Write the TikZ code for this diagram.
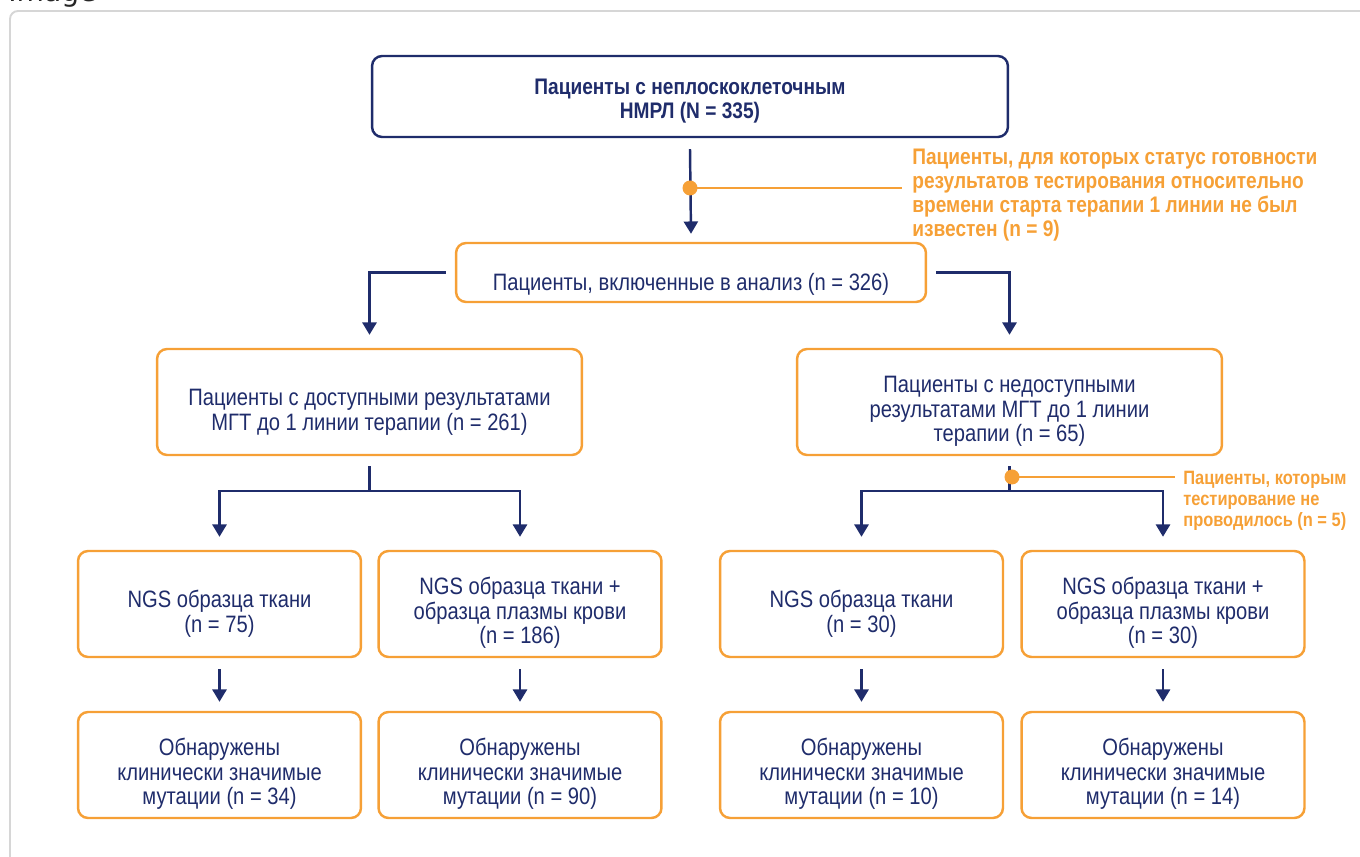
\documentclass[tikz,border=0pt]{standalone}
\usepackage{fontspec}
\setmainfont{Liberation Sans}[FakeStretch=0.85]
\newfontfamily\imagefont{DejaVu Sans}
\usetikzlibrary{positioning, calc, arrows.meta}

\definecolor{navyline}{RGB}{31,44,107}
\definecolor{orangeline}{RGB}{246,160,54}
\definecolor{framegray}{RGB}{214,214,214}

\tikzset{
    flowbox/.style={draw=orangeline, line width=1.4pt, rounded corners=0.2cm,
        align=center, text=navyline, inner sep=0pt, text depth=0pt,
        font=\fontsize{13.5}{14.1}\selectfont},
    oneline/.style={text height=20.5pt},
    twolines/.style={text height=32.4pt},
    threelines/.style={text height=45.5pt},
    rowbox/.style={flowbox, minimum width=5.66cm, minimum height=2.12cm},
    flowline/.style={draw=navyline, line width=1.4pt},
    flowarrow/.style={flowline, -{Triangle[width=8pt, length=7pt]}},
    noteline/.style={draw=orangeline, line width=1.4pt},
    notedot/.style={circle, fill=orangeline, inner sep=0pt, minimum size=0.3cm},
    notetext/.style={text=orangeline, align=left, inner sep=0pt,
        font=\bfseries\fontsize{12.8}{13.6}\selectfont},
}

\begin{document}
\begin{tikzpicture}[x=0.02cm, y=-0.02cm]

    \useasboundingbox (0,0) rectangle (1360,857);
    \clip (0,0) rectangle (1360,857);

    % Frame round the picture
    \draw[framegray, line width=1.1pt, rounded corners=0.16cm] (10,11) rectangle (1380,880);
    \node[anchor=base west, inner sep=0pt, text=black!85,
        font=\imagefont\fontsize{16}{16}\selectfont] (imagelabel) at (8,2) {Image};

    % Top box
    \node[flowbox, draw=navyline, minimum width=12.72cm, minimum height=1.62cm,
        text height=24.8pt, font=\bfseries\fontsize{12.8}{13.6}\selectfont] (cohort) at (690,96.5)
        {Пациенты с неплоскоклеточным\\НМРЛ (N = 335)};

    % Included patients
    \node[flowbox, oneline, minimum width=9.4cm, minimum height=1.18cm] (included) at (691,272.5)
        {Пациенты, включенные в анализ (n = 326)};

    \draw[flowarrow] ($(cohort.south)+(0,11)$) -- ($(included.north)+(0,-8)$);

    % Excluded: status unknown
    \node[notetext, anchor=north west] (unknown) at (912,149)
        {Пациенты, для которых статус готовности\\
         результатов тестирования относительно\\
         времени старта терапии 1 линии не был\\
         известен (n = 9)};
    \coordinate (unknownat) at (690,188);
    \draw[noteline] (unknownat) -- ($(unknownat -| unknown.west)+(-10,0)$);
    \node[notedot] (unknowndot) at (unknownat) {};

    % MGT results available / not available
    \node[flowbox, twolines, minimum width=8.5cm, minimum height=2.12cm] (avail) at (369.5,402)
        {Пациенты с доступными результатами\\МГТ до 1 линии терапии (n = 261)};
    \node[flowbox, threelines, minimum width=8.5cm, minimum height=2.12cm] (unavail) at (1009.5,402)
        {Пациенты с недоступными\\результатами МГТ до 1 линии\\терапии (n = 65)};

    \draw[flowarrow] ($(included.west)+(-9,0)$) -| ($(avail.north)+(0,-13)$);
    \draw[flowarrow] ($(included.east)+(9,0)$) -| ($(unavail.north)+(0,-13)$);

    % NGS row
    \node[rowbox, twolines] (tissueL) at (219.5,604) {NGS образца ткани\\(n = 75)};
    \node[rowbox, threelines] (plasmaL) at (520,604) {NGS образца ткани +\\образца плазмы крови\\(n = 186)};
    \node[rowbox, twolines] (tissueR) at (861.5,604) {NGS образца ткани\\(n = 30)};
    \node[rowbox, threelines] (plasmaR) at (1163,604) {NGS образца ткани +\\образца плазмы крови\\(n = 30)};

    \draw[flowline] ($(avail.south)+(0,10)$) -- ($(avail.south)+(0,35)$) coordinate (splitL);
    \draw[flowarrow] (splitL) -| ($(tissueL.north)+(0,-13)$);
    \draw[flowarrow] (splitL) -| ($(plasmaL.north)+(0,-13)$);

    \draw[flowline] ($(unavail.south)+(0,10)$) -- ($(unavail.south)+(0,35)$) coordinate (splitR);
    \draw[flowarrow] (splitR) -| ($(tissueR.north)+(0,-13)$);
    \draw[flowarrow] (splitR) -| ($(plasmaR.north)+(0,-13)$);

    % Excluded: not tested
    \node[notetext, anchor=north west, font=\bfseries\fontsize{11}{12}\selectfont]
        (untested) at (1183,471)
        {Пациенты, которым\\тестирование не\\проводилось (n = 5)};
    \coordinate (untestedat) at (1012,477);
    \draw[noteline] (untestedat) -- ($(untestedat -| untested.west)+(-8,0)$);
    \node[notedot] (untesteddot) at (untestedat) {};

    % Mutations found
    \node[rowbox, threelines] (mutTL) at (219.5,765) {Обнаружены\\клинически значимые\\мутации (n = 34)};
    \node[rowbox, threelines] (mutPL) at (520,765) {Обнаружены\\клинически значимые\\мутации (n = 90)};
    \node[rowbox, threelines] (mutTR) at (861.5,765) {Обнаружены\\клинически значимые\\мутации (n = 10)};
    \node[rowbox, threelines] (mutPR) at (1163,765) {Обнаружены\\клинически значимые\\мутации (n = 14)};

    \draw[flowarrow] ($(tissueL.south)+(0,11)$) -- ($(mutTL.north)+(0,-9)$);
    \draw[flowarrow] ($(plasmaL.south)+(0,11)$) -- ($(mutPL.north)+(0,-9)$);
    \draw[flowarrow] ($(tissueR.south)+(0,11)$) -- ($(mutTR.north)+(0,-9)$);
    \draw[flowarrow] ($(plasmaR.south)+(0,11)$) -- ($(mutPR.north)+(0,-9)$);

\end{tikzpicture}
\end{document}
